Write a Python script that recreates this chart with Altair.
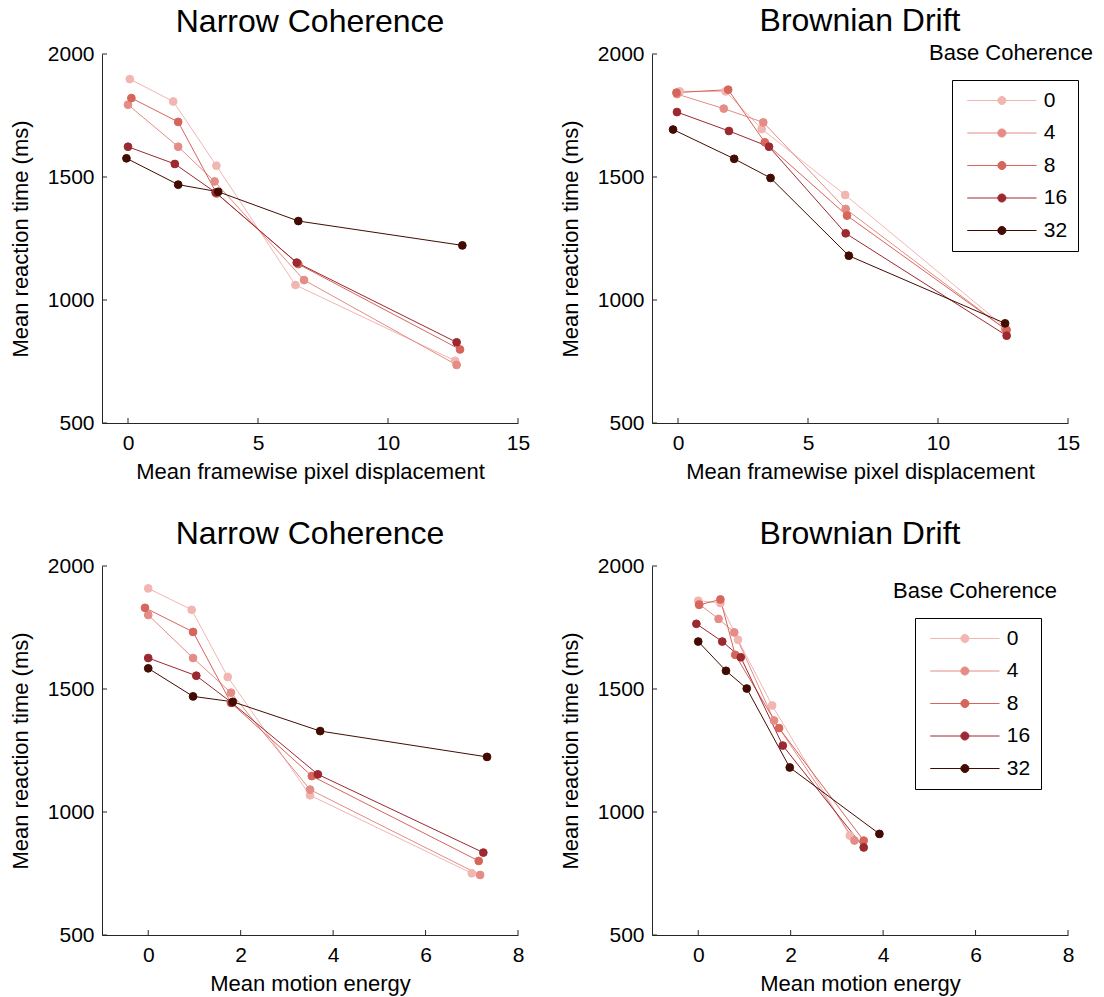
import altair as alt
import pandas as pd

FONT = "Liberation Sans"
AXC = "#262626"

COHERENCES = ["0", "4", "8", "16", "32"]
COLORS = ["#F2B6B2", "#E48C85", "#D6655B", "#9C2830", "#430C02"]
Y_TICKS = [500, 1000, 1500, 2000]
X_TICKS_DISP = [0, 5, 10, 15]
X_TICKS_ENERGY = [0, 2, 4, 6, 8]
LEGEND_TITLE = "Base Coherence"
Y_TITLE = "Mean reaction time (ms)"

# Narrow Coherence vs mean framewise pixel displacement
ND_X = {"0": [0.07, 1.74, 3.40, 6.44, 12.58],
        "4": [0.00, 1.93, 3.33, 6.77, 12.64],
        "8": [0.13, 1.93, 3.41, 6.55, 12.77],
        "16": [0.00, 1.80, 3.37, 6.49, 12.64],
        "32": [-0.06, 1.93, 3.47, 6.55, 12.86]}
ND_Y = {"0": [1898, 1807, 1546, 1061, 753],
        "4": [1794, 1623, 1482, 1081, 736],
        "8": [1821, 1724, 1433, 1146, 799],
        "16": [1623, 1553, 1437, 1152, 828],
        "32": [1576, 1469, 1440, 1321, 1222]}

# Brownian Drift vs mean framewise pixel displacement
BD_X = {"0": [0.07, 1.83, 3.22, 6.43, 12.58],
        "4": [-0.04, 1.76, 3.28, 6.45, 12.58],
        "8": [-0.06, 1.93, 3.34, 6.50, 12.64],
        "16": [-0.04, 1.96, 3.50, 6.45, 12.64],
        "32": [-0.19, 2.16, 3.56, 6.57, 12.58]}
BD_Y = {"0": [1848, 1848, 1695, 1427, 889],
        "4": [1837, 1778, 1722, 1370, 882],
        "8": [1843, 1855, 1641, 1343, 878],
        "16": [1764, 1687, 1623, 1271, 855],
        "32": [1693, 1574, 1496, 1180, 905]}

# Narrow Coherence vs mean motion energy
NE_X = {"0": [0.00, 0.94, 1.72, 3.50, 7.00],
        "4": [0.00, 0.97, 1.79, 3.50, 7.18],
        "8": [-0.07, 0.97, 1.79, 3.54, 7.15],
        "16": [0.00, 1.04, 1.81, 3.67, 7.25],
        "32": [0.00, 0.97, 1.83, 3.72, 7.33]}
NE_Y = {"0": [1909, 1822, 1549, 1068, 751],
        "4": [1801, 1626, 1485, 1091, 744],
        "8": [1830, 1732, 1444, 1146, 801],
        "16": [1626, 1554, 1444, 1153, 835],
        "32": [1584, 1470, 1448, 1329, 1224]}

# Brownian Drift vs mean motion energy
BE_X = {"0": [0.00, 0.48, 0.86, 1.60, 3.28],
        "4": [0.02, 0.44, 0.78, 1.64, 3.38],
        "8": [0.02, 0.48, 0.80, 1.75, 3.58],
        "16": [-0.04, 0.52, 0.92, 1.83, 3.58],
        "32": [0.00, 0.60, 1.05, 1.98, 3.92]}
BE_Y = {"0": [1859, 1849, 1700, 1433, 904],
        "4": [1845, 1785, 1730, 1372, 884],
        "8": [1842, 1864, 1639, 1341, 884],
        "16": [1765, 1693, 1629, 1270, 856],
        "32": [1693, 1574, 1502, 1181, 911]}

W, H = 416, 369

# legend symbol: line with a filled circle (unit coords scaled by sqrt(size)/2)
SYMBOL = "M-1.17,0L14.23,0M7.43,0A0.9,0.9,0,1,1,5.63,0A0.9,0.9,0,1,1,7.43,0Z"


def panel(xs, ys, title, xtitle, xdomain, xticks, legend_xy=None, ltitle_xy=None):
    rows = []
    for c in COHERENCES:
        for i, (xv, yv) in enumerate(zip(xs[c], ys[c])):
            rows.append({"coh": c, "i": i, "x": xv, "y": yv})
    df = pd.DataFrame(rows)
    xscale = alt.Scale(domain=xdomain, nice=False, zero=False)
    yscale = alt.Scale(domain=[500, 2000], nice=False, zero=False)
    cscale = alt.Scale(domain=COHERENCES, range=COLORS)
    common_axis = dict(ticks=False, tickSize=0, grid=False, domainColor=AXC,
                       domainWidth=1, labelFont=FONT, titleFont=FONT,
                       labelFontSize=21, titleFontSize=22, labelColor="black",
                       titleColor="black", titleFontWeight="normal",
                       labelFlush=False, labelOverlap=False, format="d")
    xaxis = alt.Axis(values=xticks, title=xtitle, labelPadding=9, titlePadding=8,
                     **common_axis)
    yaxis = alt.Axis(values=Y_TICKS, title=Y_TITLE, labelPadding=8, titlePadding=15,
                     **common_axis)
    if legend_xy is not None:
        legend = alt.Legend(orient="none", legendX=legend_xy[0], legendY=legend_xy[1],
                            title=None, symbolType=SYMBOL, symbolSize=81,
                            symbolStrokeWidth=1, symbolOpacity=1,
                            labelFont=FONT, labelFontSize=21, labelColor="black",
                            labelOffset=60.7, rowPadding=10.5, padding=10,
                            strokeColor="black", fillColor="white")
    else:
        legend = None
    base = alt.Chart(df)
    lines = base.mark_line(strokeWidth=1, opacity=1).encode(
        x=alt.X("x:Q", scale=xscale, axis=xaxis),
        y=alt.Y("y:Q", scale=yscale, axis=yaxis),
        stroke=alt.Stroke("coh:N", scale=cscale, sort=COHERENCES, legend=legend),
        order="i:Q",
    )
    points = base.mark_point(filled=True, size=60, opacity=1, strokeWidth=1).encode(
        x=alt.X("x:Q", scale=xscale, axis=xaxis),
        y=alt.Y("y:Q", scale=yscale, axis=yaxis),
        fill=alt.Fill("coh:N", scale=cscale, sort=COHERENCES, legend=legend),
        stroke=alt.Stroke("coh:N", scale=cscale, sort=COHERENCES, legend=legend),
    )
    yt = alt.Chart(pd.DataFrame({"v": Y_TICKS})).mark_rule(color=AXC, strokeWidth=1).encode(
        y=alt.Y("v:Q", scale=yscale, axis=yaxis), x=alt.value(0), x2=alt.value(5))
    xt = alt.Chart(pd.DataFrame({"v": xticks})).mark_rule(color=AXC, strokeWidth=1).encode(
        x=alt.X("v:Q", scale=xscale, axis=xaxis), y=alt.value(H), y2=alt.value(H - 5))
    layers = [lines, points, yt, xt]
    if ltitle_xy is not None:
        lt = alt.Chart(pd.DataFrame({"t": [LEGEND_TITLE]})).mark_text(
            font=FONT, fontSize=22, align="center", baseline="middle", color="black"
        ).encode(text="t:N", x=alt.value(ltitle_xy[0]), y=alt.value(ltitle_xy[1]))
        layers.append(lt)
    return alt.layer(*layers).properties(
        width=W, height=H,
        title=alt.TitleParams(title, font=FONT, fontSize=32, fontWeight="normal",
                              color="black", anchor="middle", offset=-21,
                              baseline="alphabetic"),
    )


p1 = panel(ND_X, ND_Y, "Narrow Coherence", "Mean framewise pixel displacement",
           [-1, 15], X_TICKS_DISP)
p2 = panel(BD_X, BD_Y, "Brownian Drift", "Mean framewise pixel displacement",
           [-1, 15], X_TICKS_DISP, legend_xy=(300, 26), ltitle_xy=(359, -1))
p3 = panel(NE_X, NE_Y, "Narrow Coherence", "Mean motion energy",
           [-1, 8], X_TICKS_ENERGY)
p4 = panel(BE_X, BE_Y, "Brownian Drift", "Mean motion energy",
           [-1, 8], X_TICKS_ENERGY, legend_xy=(263, 52), ltitle_xy=(323, 25))

chart = alt.concat(p1, p2, p3, p4, columns=2, spacing={"row": 143, "column": 134},
                   bounds="flush").resolve_scale(
    fill="independent", stroke="independent", x="independent", y="independent"
).resolve_legend(fill="independent", stroke="independent").configure_view(
    stroke=None
).properties(padding={"left": 9, "top": 5, "right": 5, "bottom": 5}, background="white")

chart.save("out.html", embed_options={"renderer": "svg", "actions": False})
